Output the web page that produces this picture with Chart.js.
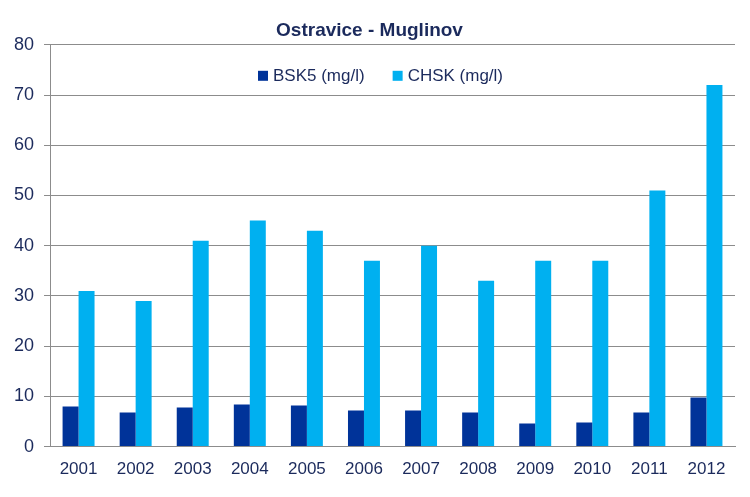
<!DOCTYPE html>
<html>
<head>
<meta charset="utf-8">
<script src="https://cdn.jsdelivr.net/npm/chart.js@4/dist/chart.umd.min.js"></script>
<style>
  html, body { margin: 0; padding: 0; background: #ffffff; }
  #wrap { width: 750px; height: 497px; }
</style>
</head>
<body>
<div id="wrap"><canvas id="chart" width="750" height="497"></canvas></div>
<script>
    const years = ['2001', '2002', '2003', '2004', '2005', '2006', '2007', '2008', '2009', '2010', '2011', '2012'];
    const bsk5 = [8.0, 6.8, 7.8, 8.4, 8.2, 7.2, 7.2, 6.8, 4.6, 4.8, 6.8, 9.8];
    const chsk = [31, 29, 41, 45, 43, 37, 40, 33, 37, 37, 51, 72];
    const yTicks = [0, 10, 20, 30, 40, 50, 60, 70, 80];

    const textColor = '#1b2a5c';
    const gridColor = '#8c8c8c';

    Chart.defaults.font.family = '"Liberation Sans", Arial, sans-serif';
    Chart.defaults.color = textColor;

    // legend drawn inside the plot area, one row, a bit left of centre near the top
    const innerLegend = {
        id: 'innerLegend',
        afterDraw(chart) {
            const ctx = chart.ctx;
            const area = chart.chartArea;
            const box = 10;
            const gap = 5;
            const spacing = 28;
            ctx.save();
            ctx.font = '17px "Liberation Sans", Arial, sans-serif';
            ctx.textBaseline = 'middle';
            const items = chart.data.datasets.map((ds) => ({
                text: ds.label,
                color: ds.backgroundColor,
                width: box + gap + ctx.measureText(ds.label).width
            }));
            const total = items.reduce((s, it) => s + it.width, 0) + spacing * (items.length - 1);
            let x = (area.left + area.right) / 2 - total / 2 - 12;
            const y = area.top + 31;
            items.forEach((it) => {
                ctx.fillStyle = it.color;
                ctx.fillRect(x, y - box / 2, box, box);
                ctx.fillStyle = textColor;
                ctx.fillText(it.text, x + box + gap, y + 1);
                x += it.width + spacing;
            });
            ctx.restore();
        }
    };

    new Chart(document.getElementById('chart'), {
        type: 'bar',
        data: {
            labels: years,
            datasets: [
                {
                    label: 'BSK5 (mg/l)',
                    data: bsk5,
                    backgroundColor: '#003399',
                    categoryPercentage: 0.56,
                    barPercentage: 1.0
                },
                {
                    label: 'CHSK (mg/l)',
                    data: chsk,
                    backgroundColor: '#00b0f0',
                    categoryPercentage: 0.56,
                    barPercentage: 1.0
                }
            ]
        },
        options: {
            responsive: false,
            animation: false,
            layout: {
                padding: { left: 4, right: 15, top: 0, bottom: 12 }
            },
            plugins: {
                title: {
                    display: true,
                    text: 'Ostravice - Muglinov',
                    color: textColor,
                    font: { size: 19, weight: 'bold' },
                    padding: { top: 19, bottom: 3 }
                },
                legend: { display: false },
                tooltip: { enabled: false }
            },
            scales: {
                x: {
                    grid: { display: false },
                    border: { color: gridColor, width: 1 },
                    ticks: { color: textColor, font: { size: 17 }, padding: 5 }
                },
                y: {
                    min: 0,
                    max: 80,
                    afterBuildTicks: (axis) => {
                        axis.ticks = yTicks.map((v) => ({ value: v }));
                    },
                    grid: { color: gridColor, tickLength: 6, lineWidth: 1 },
                    border: { color: gridColor, width: 1 },
                    ticks: { color: textColor, font: { size: 18 }, padding: 10 }
                }
            }
        },
        plugins: [innerLegend]
    });
</script>
</body>
</html>
